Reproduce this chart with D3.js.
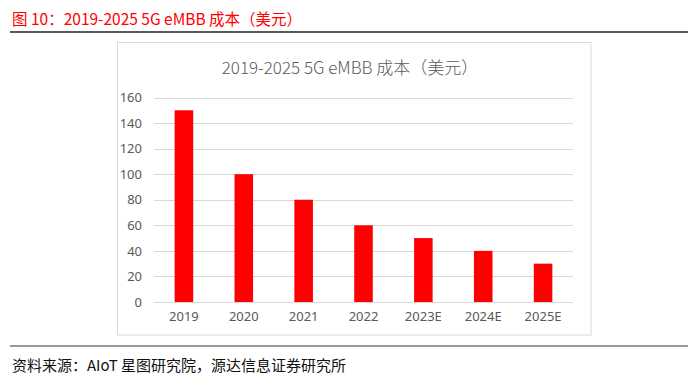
<!DOCTYPE html>
<html>
<head>
<meta charset="utf-8">
<script src="https://cdn.jsdelivr.net/npm/d3@7"></script>
<style>
  body { margin: 0; background: #fff; }
  svg { display: block; font-family: "Noto Sans CJK SC", "Noto Sans", sans-serif; }
</style>
</head>
<body>
<div id="chart"></div>
<script>
// data
var years = ['2019', '2020', '2021', '2022', '2023E', '2024E', '2025E']
var costs = [150, 100, 80, 60, 50, 40, 30]
var yTicks = [0, 20, 40, 60, 80, 100, 120, 140, 160]

var width = 691
var height = 375

// plot area inside the chart box
var margin = { top: 97.5, left: 154, right: 691 - 573, bottom: 375 - 302 }

var svg = d3.select('#chart')
  .append('svg')
  .attr('width', width)
  .attr('height', height)

// page header
svg.append('text')
  .attr('x', 12)
  .attr('y', 25)
  .attr('fill', '#ff0000')
  .attr('font-size', 15.5)
  .text('图 10：2019-2025 5G eMBB  成本（美元）')

svg.append('line')
  .attr('x1', 10).attr('x2', 688)
  .attr('y1', 32).attr('y2', 32)
  .attr('stroke', '#222').attr('stroke-width', 1.5)

// chart frame
svg.append('rect')
  .attr('x', 117.5).attr('y', 42.5)
  .attr('width', 591 - 117.5).attr('height', 335 - 42.5)
  .attr('fill', 'none')
  .attr('stroke', '#d9d9d9')

svg.append('text')
  .attr('x', 350)
  .attr('y', 74)
  .attr('text-anchor', 'middle')
  .attr('fill', '#595959')
  .attr('font-size', 17)
  .attr('font-weight', 300)
  .text('2019-2025 5G eMBB 成本（美元）')

// scales
var xPositionScale = d3.scaleBand()
  .domain(years)
  .range([margin.left, width - margin.right])
  .paddingInner(0.69)
  .paddingOuter(0.345)

var yPositionScale = d3.scaleLinear()
  .domain([0, 160])
  .range([height - margin.bottom, margin.top])

// gridlines
svg.append('g')
  .selectAll('line')
  .data(yTicks)
  .enter()
  .append('line')
  .attr('x1', margin.left)
  .attr('x2', width - margin.right)
  .attr('y1', d => Math.round(yPositionScale(d)) + 0.5)
  .attr('y2', d => Math.round(yPositionScale(d)) + 0.5)
  .attr('stroke', '#d9d9d9')

// bars
svg.append('g')
  .selectAll('rect')
  .data(costs)
  .enter()
  .append('rect')
  .attr('x', (d, i) => xPositionScale(years[i]))
  .attr('width', xPositionScale.bandwidth())
  .attr('y', d => yPositionScale(d))
  .attr('height', d => yPositionScale(0) - yPositionScale(d))
  .attr('fill', '#ff0000')

// axes
var yAxis = d3.axisLeft(yPositionScale).tickValues(yTicks).tickSize(0).tickPadding(12)
var yg = svg.append('g')
  .attr('class', 'axis y-axis')
  .attr('transform', 'translate(' + margin.left + ',0)')
  .call(yAxis)

var xAxis = d3.axisBottom(xPositionScale).tickSize(0).tickPadding(10)
var xg = svg.append('g')
  .attr('class', 'axis x-axis')
  .attr('transform', 'translate(0,' + (height - margin.bottom) + ')')
  .call(xAxis)

svg.selectAll('.axis .domain').remove()
svg.selectAll('.axis text')
  .attr('fill', '#595959')
  .attr('font-size', 13)
  .attr('font-family', '"Noto Sans", sans-serif')

// footer
svg.append('line')
  .attr('x1', 10).attr('x2', 688)
  .attr('y1', 346).attr('y2', 346)
  .attr('stroke', '#777').attr('stroke-width', 1.5)

svg.append('text')
  .attr('x', 12)
  .attr('y', 371)
  .attr('fill', '#111')
  .attr('font-size', 15)
  .text('资料来源：AIoT 星图研究院，源达信息证券研究所')
</script>
</body>
</html>
